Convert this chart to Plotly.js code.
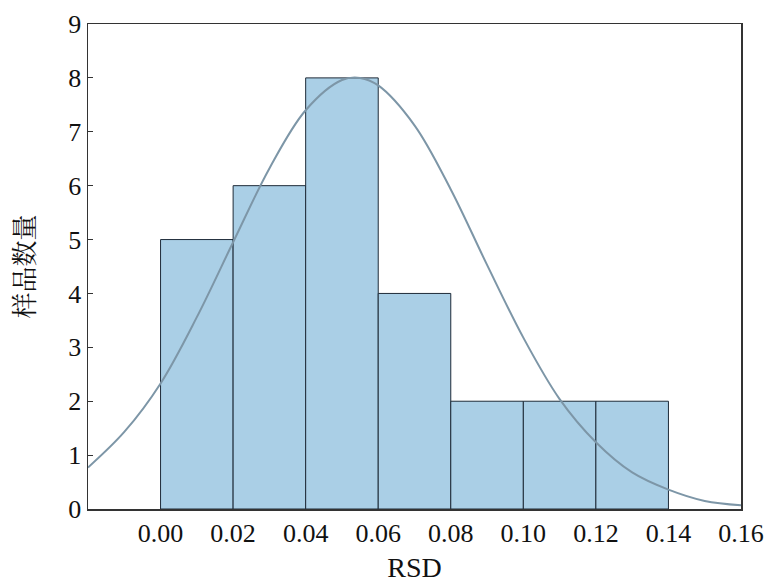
<!DOCTYPE html>
<html>
<head>
<meta charset="utf-8">
<script src="https://cdn.plot.ly/plotly-3.0.1.min.js"></script>
<style>html,body{margin:0;padding:0;background:#fff;}#chart{width:767px;height:583px;}</style>
</head>
<body>
<div id="chart"></div>
<script>
// Histogram bins (centers), counts
const binCenters = [0.01, 0.03, 0.05, 0.07, 0.09, 0.11, 0.13];
const counts = [5, 6, 8, 4, 2, 2, 2];
const binWidth = 0.02;

// Fitted curve, points
const curveX = [-0.02, -0.01, 0.00, 0.01, 0.02, 0.03, 0.04, 0.05, 0.055, 0.06, 0.07, 0.08, 0.09, 0.10, 0.11, 0.12, 0.13, 0.14, 0.15, 0.16];
const curveY = [0.77, 1.43, 2.33, 3.56, 4.95, 6.32, 7.40, 7.96, 8.0, 7.86, 7.12, 5.93, 4.53, 3.18, 2.04, 1.24, 0.68, 0.36, 0.15, 0.07];

const xTicks = [0.00, 0.02, 0.04, 0.06, 0.08, 0.10, 0.12, 0.14, 0.16];
const xTickText = ['0.00','0.02','0.04','0.06','0.08','0.10','0.12','0.14','0.16'];
const yTicks = [0,1,2,3,4,5,6,7,8,9];

const traces = [
  {
    type: 'bar', x: binCenters, y: counts, width: binWidth,
    marker: {color: '#aacfe6', line: {color: '#1e2b38', width: 1}},
    hoverinfo: 'x+y', showlegend: false
  },
  {
    type: 'scatter', mode: 'lines', x: curveX, y: curveY,
    line: {color: '#7d96a7', width: 2, shape: 'spline', smoothing: 1},
    showlegend: false
  }
];

const layout = {
  width: 767, height: 583,
  margin: {l: 88, r: 26, t: 24, b: 74},
  paper_bgcolor: '#fff', plot_bgcolor: '#fff',
  bargap: 0,
  font: {family: 'Liberation Serif, Times New Roman, serif', color: '#111', size: 26},
  xaxis: {
    range: [-0.02, 0.16], tickvals: xTicks, ticktext: xTickText,
    showgrid: false, zeroline: false,
    showline: true, linecolor: '#333', linewidth: 1.5, mirror: true,
    ticks: '', tickfont: {size: 26},
    title: {text: 'RSD', font: {size: 28}, standoff: 12}
  },
  yaxis: {
    range: [0, 9], tickvals: yTicks,
    showgrid: false, zeroline: false,
    showline: true, linecolor: '#333', linewidth: 1.5, mirror: true,
    ticks: 'inside', ticklen: 5, tickwidth: 1.2, tickcolor: '#333',
    tickfont: {size: 26},
    title: {text: '样品数量', font: {family: 'Noto Serif CJK SC, Noto Sans CJK SC', size: 26}, standoff: 26}
  }
};

Plotly.newPlot('chart', traces, layout, {displayModeBar: false, staticPlot: true});
</script>
</body>
</html>
